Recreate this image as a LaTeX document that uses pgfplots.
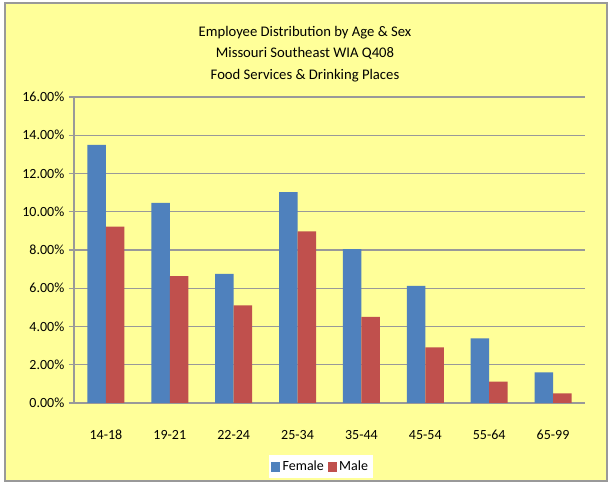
\documentclass[border=0pt]{standalone}
\usepackage{pgfplots}
\pgfplotsset{compat=1.18}
\usepackage{fontspec}
\setmainfont{Carlito}
\definecolor{bgyellow}{HTML}{FFFF99}
\definecolor{femblue}{HTML}{4F81BD}
\definecolor{malered}{HTML}{C0504D}
\definecolor{gridgray}{HTML}{999999}
\begin{document}
\begin{tikzpicture}
% canvas 610x484 px at 0.75pt per px
\fill[white] (0,0) rectangle (457.5pt,363pt);
\filldraw[fill=bgyellow, draw=gridgray, line width=1.1pt] (3.75pt,2.25pt) rectangle (455.25pt,360.75pt);
\node[align=center, font=\fontsize{11}{16.2}\selectfont] at (228.75pt,322.5pt)
  {Employee Distribution by Age \& Sex\\Missouri Southeast WIA Q408\\Food Services \& Drinking Places};
\begin{axis}[
  at={(55.5pt,60.75pt)}, anchor=south west,
  width=383.25pt, height=229.5pt, scale only axis,
  ybar=0pt, bar width=13.9pt,
  xmin=-0.5, xmax=7.5, ymin=0, ymax=16,
  axis x line*=bottom, axis y line*=left,
  axis line style={gridgray, line width=1.1pt},
  xtick={0,...,7},
  xticklabels={14-18,19-21,22-24,25-34,35-44,45-54,55-64,65-99},
  x tick style={draw=none},
  minor xtick={-0.5,0.5,...,7.5},
  minor x tick style={gridgray, line width=1pt},
  minor tick length=4pt,
  ytick={0,2,...,16},
  y tick style={gridgray, line width=1pt},
  major tick length=3.75pt,
  tick align=outside,
  ymajorgrids, grid style={gridgray, line width=1.1pt},
  yticklabel={\pgfmathprintnumber[fixed,fixed zerofill,precision=2]{\tick}\%},
  /pgf/number format/assume math mode=true,
  ticklabel style={font=\fontsize{10.5}{12}\selectfont},
  xticklabel style={yshift=-13pt},
  legend style={at={(0.4834,-0.2076)}, anchor=center, legend columns=2,
    draw=none, fill=white, font=\fontsize{10.5}{12}\selectfont,
    inner sep=2pt, /tikz/every even column/.append style={column sep=1pt}},
  legend image code/.code={\fill[#1] (0pt,-4pt) rectangle (6.5pt,3.5pt);},
]
\addplot[fill=femblue, draw=none] coordinates {
  (0,13.5) (1,10.47) (2,6.75) (3,11.02) (4,8.05) (5,6.13) (6,3.38) (7,1.6)
};
\addlegendentry{Female}
\addplot[fill=malered, draw=none] coordinates {
  (0,9.22) (1,6.64) (2,5.1) (3,8.98) (4,4.5) (5,2.91) (6,1.12) (7,0.5)
};
\addlegendentry{Male}
\end{axis}
\end{tikzpicture}
\end{document}
